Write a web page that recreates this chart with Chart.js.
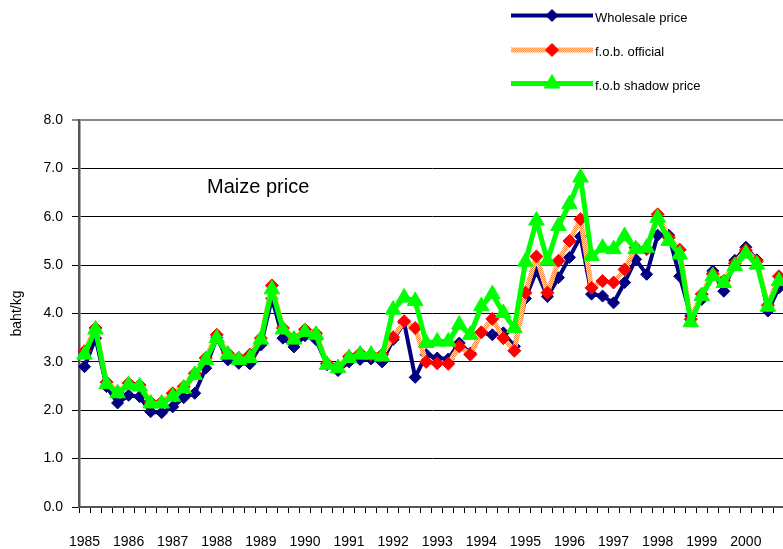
<!DOCTYPE html>
<html><head><meta charset="utf-8">
<script src="https://cdn.jsdelivr.net/npm/chart.js@4.4.1/dist/chart.umd.min.js"></script>
<style>
html,body{margin:0;padding:0;background:#fff;overflow:hidden;width:783px;height:549px;}
#wrap{position:absolute;left:0;top:0;width:800px;height:549px;}
</style></head><body>
<div id="wrap"><canvas id="c" width="800" height="549"></canvas></div>
<script>
// ---- data ----
const years = ['1985','1986','1987','1988','1989','1990','1991','1992','1993','1994','1995','1996','1997','1998','1999','2000'];
const quarters = ['Q1','Q2','Q3','Q4'];
const categories = years.flatMap(y => quarters.map(q => y + ' ' + q));

const wholesale = [
  2.90,3.49,2.49,2.15, 2.31,2.28,1.97,1.95, 2.07,2.26,2.35,2.87, 3.50,3.04,2.97,2.96,
  3.35,4.31,3.49,3.31, 3.54,3.46,2.94,2.82, 3.00,3.05,3.06,3.00, 3.46,3.81,2.68,3.15,
  3.08,3.06,3.39,3.18, 3.61,3.56,3.60,3.32, 4.31,4.88,4.35,4.74, 5.16,5.59,4.40,4.36,
  4.22,4.64,5.12,4.81, 5.62,5.62,4.77,3.95, 4.29,4.88,4.46,5.10, 5.37,5.11,4.05,4.53
];
const fobOfficial = [
  3.22,3.70,2.58,2.38, 2.56,2.52,2.17,2.17, 2.35,2.49,2.76,3.08, 3.56,3.18,3.08,3.15,
  3.49,4.58,3.70,3.49, 3.67,3.59,2.97,2.90, 3.11,3.18,3.15,3.15, 3.51,3.84,3.70,3.00,
  2.97,2.96,3.32,3.15, 3.61,3.89,3.49,3.23, 4.43,5.18,4.43,5.09, 5.50,5.95,4.53,4.67,
  4.64,4.91,5.36,5.33, 6.05,5.57,5.32,3.88, 4.40,4.82,4.68,5.04, 5.31,5.08,4.17,4.77
];
const fobShadow = [
  3.15,3.67,2.54,2.35, 2.52,2.49,2.14,2.14, 2.28,2.45,2.73,3.04, 3.49,3.15,3.04,3.08,
  3.46,4.50,3.67,3.46, 3.62,3.56,2.94,2.87, 3.08,3.15,3.15,3.11, 4.08,4.33,4.26,3.39,
  3.42,3.42,3.77,3.56, 4.15,4.40,4.01,3.70, 5.07,5.92,5.09,5.81, 6.26,6.81,5.19,5.36,
  5.33,5.60,5.33,5.36, 5.98,5.50,5.22,3.82, 4.36,4.77,4.63,4.98, 5.24,5.01,4.14,4.67
];
const seriesNames = ['Wholesale price','f.o.b. official','f.o.b shadow price'];
const yTitle = 'baht/kg';
const chartNote = 'Maize price';

// ---- styles ----
const FONT = '"Liberation Sans", Arial, sans-serif';
const canvas = document.getElementById('c');
function makePattern(){
  const pc = document.createElement('canvas'); pc.width = 2; pc.height = 2;
  const p = pc.getContext('2d');
  p.fillStyle = '#FFE0C2'; p.fillRect(0,0,2,2);
  p.fillStyle = '#FF8A3D'; p.fillRect(0,0,1,1); p.fillRect(1,1,1,1);
  return canvas.getContext('2d').createPattern(pc,'repeat');
}
const orangePattern = makePattern();

const legendPlugin = {
  id: 'customLegend',
  afterDraw(chart){
    const ctx = chart.ctx;
    const rowsY = [15.5, 50, 83.5];
    ctx.save();
    chart.data.datasets.forEach((ds, i) => {
      const y = rowsY[i];
      ctx.strokeStyle = ds.borderColor;
      ctx.lineWidth = ds.borderWidth;
      ctx.lineCap = 'butt';
      ctx.beginPath(); ctx.moveTo(511, y); ctx.lineTo(593, y); ctx.stroke();
      ctx.fillStyle = ds.pointBackgroundColor;
      ctx.strokeStyle = ds.pointBorderColor;
      ctx.lineWidth = ds.pointBorderWidth;
      Chart.helpers.drawPoint(ctx, {pointStyle: ds.pointStyle, radius: ds.pointRadius, borderWidth: ds.pointBorderWidth, rotation: 0}, 552, y);
      ctx.fillStyle = '#000';
      ctx.font = '13px ' + FONT;
      ctx.textAlign = 'left';
      ctx.textBaseline = 'middle';
      ctx.fillText(ds.label, 595, y + 2.5);
    });
    ctx.font = '20px ' + FONT;
    ctx.textBaseline = 'alphabetic';
    ctx.fillStyle = '#000';
    ctx.fillText(chartNote, 207, 193);
    ctx.restore();
  }
};

new Chart(canvas, {
  type: 'line',
  data: {
    labels: categories,
    datasets: [
      { label: seriesNames[0], data: wholesale, order: 2,
        borderColor: '#000080', borderWidth: 4, backgroundColor: '#000080',
        pointStyle: 'rectRot', pointRadius: 6, pointBackgroundColor: '#000080', pointBorderColor: '#000080', pointBorderWidth: 1,
        tension: 0, fill: false, borderJoinStyle: 'round' },
      { label: seriesNames[1], data: fobOfficial, order: 1,
        borderColor: orangePattern, borderWidth: 5, backgroundColor: '#FF0000',
        pointStyle: 'rectRot', pointRadius: 6.5, pointBackgroundColor: '#FF0000', pointBorderColor: '#FF0000', pointBorderWidth: 1,
        tension: 0, fill: false, borderJoinStyle: 'round' },
      { label: seriesNames[2], data: fobShadow, order: 0,
        borderColor: '#00FF00', borderWidth: 5, backgroundColor: '#00FF00',
        pointStyle: 'triangle', pointRadius: 9, pointBackgroundColor: '#00FF00', pointBorderColor: '#00FF00', pointBorderWidth: 1,
        tension: 0, fill: false, borderJoinStyle: 'round' }
    ]
  },
  options: {
    responsive: false,
    animation: false,
    devicePixelRatio: 1,
    layout: { padding: { top: 120, right: 6, left: 0, bottom: 0 } },
    plugins: { legend: { display: false }, tooltip: { enabled: false } },
    scales: {
      x: {
        type: 'category', offset: true,
        grid: { display: true, offset: true, drawOnChartArea: false, drawTicks: true, tickLength: 6, color: '#000', lineWidth: 1 },
        border: { display: true, color: '#555', width: 2 },
        ticks: { autoSkip: false, maxRotation: 0, minRotation: 0, padding: 21, color: '#000',
                 font: { family: FONT, size: 14 },
                 callback: (v, i) => (i % 4 === 0 ? years[i / 4] : '') },
        afterFit: s => { s.height = 42; }
      },
      y: {
        min: 0, max: 8,
        ticks: { stepSize: 1, padding: 9, color: '#000', font: { family: FONT, size: 14 },
                 callback: v => Number(v).toFixed(1) },
        grid: { color: c => (c.tick && c.tick.value === 8 ? '#888' : '#000'),
                lineWidth: c => (c.tick && c.tick.value === 8 ? 2 : 1),
                tickLength: 7, drawTicks: true },
        border: { display: true, color: '#555', width: 2.5 },
        title: { display: true, text: yTitle, color: '#000', font: { family: FONT, size: 14 }, padding: { top: 9, bottom: 0 } },
        afterFit: s => { s.width = 79; }
      }
    }
  },
  plugins: [legendPlugin]
});
</script>
</body></html>
